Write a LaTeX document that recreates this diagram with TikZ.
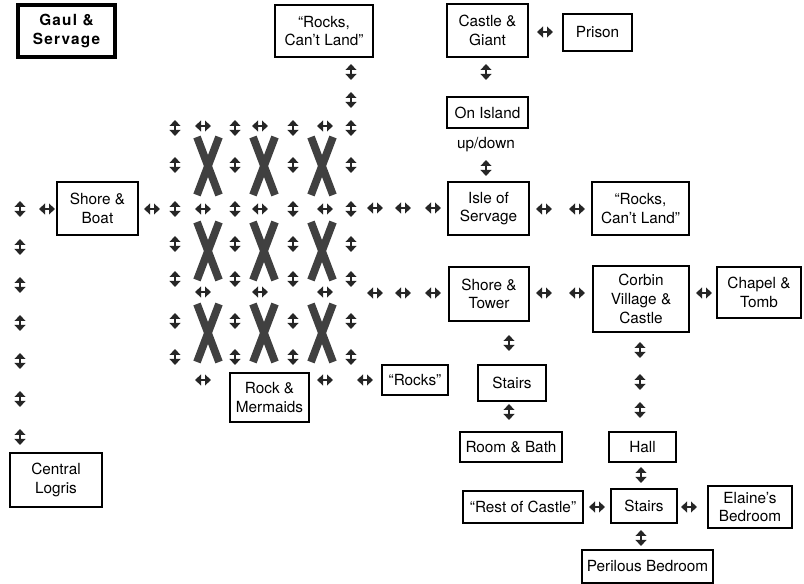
\documentclass[tikz,border=0pt]{standalone}
\usepackage{fontspec}
\setmainfont{TeX Gyre Heros}
\usetikzlibrary{arrows.meta}

\begin{document}
\begin{tikzpicture}[x=0.75pt, y=-0.75pt, font=\fontsize{11.5}{14}\selectfont,
        room/.style={draw, line width=1pt, align=center, inner sep=0pt},
        vv/.style={line width=2.2pt, draw=black!85, {Triangle[width=8pt,length=4.5pt]}-{Triangle[width=8pt,length=4.5pt]}},
        hh/.style={vv},
        cross/.style={line width=5.8pt, draw=black!75}]
        \useasboundingbox (0,0) rectangle (804,584);
        % kamers links en boven
        \node [room, line width=2.4pt, minimum width=72.75pt, minimum height=39pt,
            font=\fontsize{11.5}{14}\selectfont\bfseries\addfontfeature{LetterSpace=8}] (gaul) at (66.5,31)
            {Gaul \&\\Servage};
        \node [room, minimum width=73.5pt, minimum height=39pt] (rockstop) at (324,31) {“Rocks,\\Can’t Land”};
        \node [room, minimum width=60.75pt, minimum height=39.75pt] (shoreboat) at (97.5,208.5) {Shore \&\\Boat};
        \node [room, minimum width=69pt, minimum height=40.5pt] (logris) at (56,480) {Central\\Logris};
        \node [room, minimum width=59.25pt, minimum height=36.75pt] (mermaids) at (269.5,397.5) {Rock \&\\Mermaids};
        \node [room, minimum width=49.5pt, minimum height=22.5pt] (rockslow) at (415,380) {“Rocks”};
        % eiland
        \node [room, minimum width=60.75pt, minimum height=39.75pt] (giant) at (487.5,30.5) {Castle \&\\Giant};
        \node [room, minimum width=51.75pt, minimum height=27.75pt] (prison) at (597.5,32.5) {Prison};
        \node [room, minimum width=60.75pt, minimum height=23.25pt] (island) at (487.5,112.5) {On Island};
        \node (updown) at (486,145) {up/down};
        \node [room, minimum width=60.75pt, minimum height=39.75pt] (isle) at (488.5,208.5) {Isle of\\Servage};
        \node [room, minimum width=72.75pt, minimum height=39.75pt] (rocksright) at (640.5,208.5) {“Rocks,\\Can’t Land”};
        % corbin
        \node [room, minimum width=60pt, minimum height=40.5pt] (tower) at (489,294) {Shore \&\\Tower};
        \node [room, minimum width=72pt, minimum height=49.5pt] (corbin) at (641,299) {Corbin\\Village \&\\Castle};
        \node [room, minimum width=63pt, minimum height=38.25pt] (chapel) at (759,292.5) {Chapel \&\\Tomb};
        \node [room, minimum width=51pt, minimum height=27pt] (stairsup) at (512,383) {Stairs};
        \node [room, minimum width=76.5pt, minimum height=22.5pt] (bath) at (511,447) {Room \& Bath};
        \node [room, minimum width=50.25pt, minimum height=22.5pt] (hall) at (642.5,447) {Hall};
        \node [room, minimum width=49.5pt, minimum height=25.5pt] (stairs) at (644,506) {Stairs};
        \node [room, minimum width=90pt, minimum height=24pt] (rest) at (523,507) {“Rest of Castle”};
        \node [room, minimum width=63pt, minimum height=31.5pt] (elaine) at (750,507) {Elaine’s\\Bedroom};
        \node [room, minimum width=98.25pt, minimum height=24.75pt] (perilous) at (647.5,566.5) {Perilous Bedroom};
        % zee: kruisen
        \foreach \x in {208,264,322} \foreach \y in {166,251,333} {
            \draw [cross] (\x-11,\y-29) -- (\x+11,\y+29);
            \draw [cross] (\x+11,\y-29) -- (\x-11,\y+29);
        }
        % pijlen op en neer
        \foreach \x in {175,235,293,351} \foreach \y in {128,165,209,244,279,321,357}
            \draw [vv] (\x,\y-8) -- (\x,\y+8);
        \foreach \y in {209,247,...,437} \draw [vv] (20,\y-8) -- (20,\y+8);
        \foreach \x/\y in {351/72, 351/100, 486/72, 486/168, 509/343, 509/412,
                640/350, 640/382, 640/410, 641/475, 641/538}
            \draw [vv] (\x,\y-8) -- (\x,\y+8);
        % pijlen links en rechts
        \foreach \x in {203,260,325} \foreach \y in {126,209,292}
            \draw [hh] (\x-8,\y) -- (\x+8,\y);
        \foreach \x/\y in {47/209, 152/209, 203/380, 325/380, 365/380, 545/32,
                375/208, 403/208, 433/208, 544/209, 577/209,
                375/293, 403/293, 433/293, 544/293, 577/293, 704/293,
                597/507, 689/507}
            \draw [hh] (\x-8,\y) -- (\x+8,\y);
    \end{tikzpicture}
\end{document}
